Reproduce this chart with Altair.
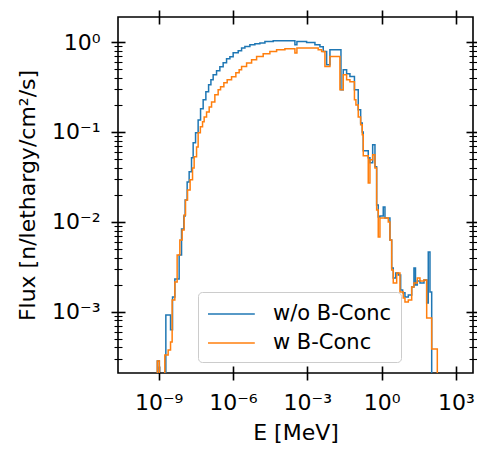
import altair as alt
import pandas as pd

FONT = "DejaVu Sans"

SERIES = ["w/o B-Conc", "w B-Conc"]
COLORS = ["#1f77b4", "#ff7f0e"]

# step histogram: left bin edges (MeV) and flux per bin [n/lethargy/cm^2/s]
E_WO = [8.0e-10, 8.89e-10, 1.07e-9, 1.96e-9, 3.03e-9, 3.65e-9, 4.52e-9, 6.75e-9,
        8.43e-9, 1.04e-8, 1.18e-8, 1.42e-8, 1.71e-8, 2.13e-8, 2.48e-8, 3.10e-8,
        3.94e-8, 4.93e-8, 6.28e-8, 8.07e-8, 1.04e-7, 1.29e-7, 1.59e-7, 2.18e-7,
        2.96e-7, 4.03e-7, 5.52e-7, 7.52e-7, 1.02e-6, 1.63e-6, 2.23e-6, 3.03e-6,
        4.82e-6, 7.67e-6, 1.22e-5, 1.95e-5, 4.21e-5, 3.16e-4, 3.81e-4, 9.38e-4,
        2.03e-3, 3.23e-3, 4.39e-3, 6.03e-3, 8.18e-3, 2.28e-2, 2.82e-2, 3.86e-2,
        5.25e-2, 7.98e-2, 0.1135, 0.142, 0.165, 0.181, 0.288, 0.337, 0.434, 0.537,
        0.628, 0.729, 0.853, 1.16, 1.36, 2.16, 2.54, 2.94, 3.67, 4.68, 5.85, 7.05,
        8.73, 11.9, 16.3, 20.1, 23.2, 27.4, 35.2, 51.1, 65.6, 76.0, 89.1, 104.5, 150.0]
FLUX_WO = [1e-6, 2.82e-4, 1e-6, 9.2e-4, 6.3e-4, 1.46e-3, 2.31e-3, 4.28e-3,
           8.3e-3, 1.16e-2, 1.75e-2, 2.78e-2, 3.6e-2, 5.15e-2, 7.56e-2, 9.77e-2,
           0.136, 0.181, 0.228, 0.280, 0.334, 0.380, 0.432, 0.479,
           0.531, 0.588, 0.652, 0.686, 0.760, 0.800, 0.857, 0.893,
           0.933, 0.957, 0.975, 1.015, 1.034, 0.933, 1.015, 0.990,
           0.933, 0.886, 0.786, 0.559, 0.821, 0.294, 0.492, 0.444,
           0.414, 0.294, 0.176, 0.126, 0.100, 0.0616, 0.0515, 0.0453, 0.0718, 0.0409,
           0.0154, 0.01134, 0.0116, 0.01466, 0.01105, 6.29e-3, 3.07e-3, 2.37e-3, 2.70e-3, 2.56e-3, 1.74e-3, 1.62e-3,
           1.46e-3, 1.53e-3, 1.88e-3, 3.07e-3, 1.98e-3, 2.20e-3, 2.09e-3, 2.25e-3, 1.25e-3, 4.62e-3, 1.66e-3, 1e-6, 1e-6]

E_W = [8.0e-10, 8.89e-10, 1.07e-9, 1.78e-9, 2.43e-9, 3.03e-9, 3.52e-9, 4.52e-9,
       5.60e-9, 7.19e-9, 8.91e-9, 1.07e-8, 1.22e-8, 1.47e-8, 1.87e-8, 2.34e-8,
       2.72e-8, 3.40e-8, 3.94e-8, 4.84e-8, 5.93e-8, 6.89e-8, 8.61e-8, 1.10e-7,
       1.37e-7, 1.86e-7, 2.53e-7, 3.16e-7, 4.30e-7, 5.85e-7, 8.79e-7, 1.31e-6,
       1.78e-6, 2.23e-6, 3.55e-6, 5.65e-6, 9.00e-6, 1.66e-5, 3.09e-5, 5.77e-5,
       1.25e-4, 3.16e-4, 3.81e-4, 2.75e-3, 3.78e-3, 5.14e-3, 8.18e-3, 2.07e-2,
       2.82e-2, 3.86e-2, 5.25e-2, 7.98e-2, 9.16e-2, 0.1135, 0.142, 0.165, 0.181,
       0.288, 0.337, 0.434, 0.537, 0.628, 0.729, 0.853, 1.85, 2.16, 2.54, 2.94,
       4.04, 5.48, 7.45, 8.73, 11.9, 16.3, 20.1, 27.4, 35.2, 51.1, 65.6, 104.5,
       176.0, 250.0]
FLUX_W = [1e-6, 2.82e-4, 1e-6, 3.30e-4, 3.74e-4, 4.60e-4, 1.35e-3, 2.14e-3,
          4.28e-3, 6.29e-3, 8.13e-3, 1.19e-2, 1.75e-2, 2.26e-2, 2.93e-2, 3.98e-2,
          5.28e-2, 6.82e-2, 9.77e-2, 0.114, 0.130, 0.147, 0.167, 0.190,
          0.216, 0.259, 0.294, 0.318, 0.352, 0.380, 0.411, 0.455,
          0.492, 0.535, 0.584, 0.635, 0.691, 0.741, 0.786, 0.821,
          0.842, 0.754, 0.857, 0.821, 0.786, 0.535, 0.691, 0.294,
          0.432, 0.380, 0.361, 0.228, 0.200, 0.147, 0.120, 0.0929, 0.0542,
          0.0271, 0.0489, 0.0556, 0.0398, 0.01358, 6.79e-3, 0.01105, 9.97e-3, 6.29e-3, 2.91e-3, 2.09e-3,
          2.70e-3, 1.66e-3, 1.42e-3, 1.28e-3, 1.35e-3, 1.88e-3, 2.09e-3, 2.37e-3, 2.20e-3, 2.25e-3, 8.51e-4, 3.85e-4,
          1e-6, 1e-6]

X_MAJOR = [1e-9, 1e-6, 1e-3, 1.0, 1e3]
Y_MAJOR = [1e-3, 1e-2, 1e-1, 1.0]
Y_MINOR = [m * 10.0 ** k for k in range(-4, 1) for m in range(2, 10)]

X_DOMAIN = [2.3e-11, 4.85e3]
Y_DOMAIN = [2.08e-4, 1.9]

df_wo = pd.DataFrame({"E": E_WO, "flux": FLUX_WO, "series": SERIES[0]})
df_w = pd.DataFrame({"E": E_W, "flux": FLUX_W, "series": SERIES[1]})

sup = "''+round(log(datum.value)/LN10)"
for a, b in [("-", "⁻"), ("0", "⁰"), ("1", "¹"), ("2", "²"), ("3", "³"), ("4", "⁴"),
             ("5", "⁵"), ("6", "⁶"), ("7", "⁷"), ("8", "⁸"), ("9", "⁹")]:
    sup = f"replace({sup},'{a}','{b}')"
LABEL_EXPR = "'10' + " + sup

xs = alt.Scale(type="log", domain=X_DOMAIN, nice=False)
ys = alt.Scale(type="log", domain=Y_DOMAIN, nice=False)
cs = alt.Scale(domain=SERIES, range=COLORS)

MAJ = dict(domain=False, grid=False, tickSize=14, offset=-7, tickWidth=1.6,
           tickColor="black", labelFont=FONT, labelFontSize=22, labelColor="black",
           titleFont=FONT, titleFontSize=22, titleFontWeight="normal", titleColor="black",
           labelFlush=False, labelOverlap=False)
MIN = dict(domain=False, grid=False, tickSize=8, offset=-4, tickWidth=1.1,
           tickColor="black", labels=False)

legend = alt.Legend(title=None, orient="none", legendX=80, legendY=275,
                    symbolType="M-1,0H2.9", symbolSize=576, symbolStrokeWidth=1.6,
                    labelOffset=40, labelFontSize=21, labelFont=FONT, labelColor="black",
                    padding=9, rowPadding=6, fillColor="rgba(255,255,255,0.8)",
                    strokeColor="#cccccc", cornerRadius=4)

line_kw = dict(interpolate="step-after", clip=True, strokeWidth=1.5)

blue = alt.Chart(df_wo).mark_line(**line_kw).encode(
    x=alt.X("E:Q", scale=xs, axis=alt.Axis(orient="bottom", values=X_MAJOR,
            labelExpr=LABEL_EXPR, title="E [MeV]", labelPadding=12, titlePadding=9, **MAJ)),
    y=alt.Y("flux:Q", scale=ys, axis=alt.Axis(orient="left", values=Y_MAJOR,
            labelExpr=LABEL_EXPR, title="Flux [n/lethargy/cm²/s]", labelPadding=11,
            titlePadding=12, **MAJ)),
    color=alt.Color("series:N", scale=cs, legend=legend),
)

orange = alt.Chart(df_w).mark_line(**line_kw).encode(
    x=alt.X("E:Q", scale=xs, axis=None),
    y=alt.Y("flux:Q", scale=ys, axis=None),
    color=alt.Color("series:N", scale=cs, legend=legend),
)

frame_major = alt.Chart(df_wo).mark_line(strokeOpacity=0, clip=True).encode(
    x=alt.X("E:Q", scale=xs, axis=alt.Axis(orient="top", values=X_MAJOR, labels=False,
            title=None, **MAJ)),
    y=alt.Y("flux:Q", scale=ys, axis=alt.Axis(orient="right", values=Y_MAJOR, labels=False,
            title=None, **MAJ)),
)

minor_left = alt.Chart(df_wo).mark_line(strokeOpacity=0, clip=True).encode(
    x=alt.X("E:Q", scale=xs, axis=None),
    y=alt.Y("flux:Q", scale=ys, axis=alt.Axis(orient="left", values=Y_MINOR,
            title=None, **MIN)),
)

minor_right = alt.Chart(df_wo).mark_line(strokeOpacity=0, clip=True).encode(
    x=alt.X("E:Q", scale=xs, axis=None),
    y=alt.Y("flux:Q", scale=ys, axis=alt.Axis(orient="right", values=Y_MINOR,
            title=None, **MIN)),
)

chart = alt.layer(blue, orange, frame_major, minor_left, minor_right).resolve_axis(
    x="independent", y="independent"
).properties(
    width=355, height=356,
    autosize=alt.AutoSizeParams(type="none"),
    padding={"left": 118, "top": 17, "right": 4, "bottom": 77},
    background="white",
).configure_view(stroke="black", strokeWidth=1.6)

chart.save("out.html", embed_options={"renderer": "svg", "actions": False})
